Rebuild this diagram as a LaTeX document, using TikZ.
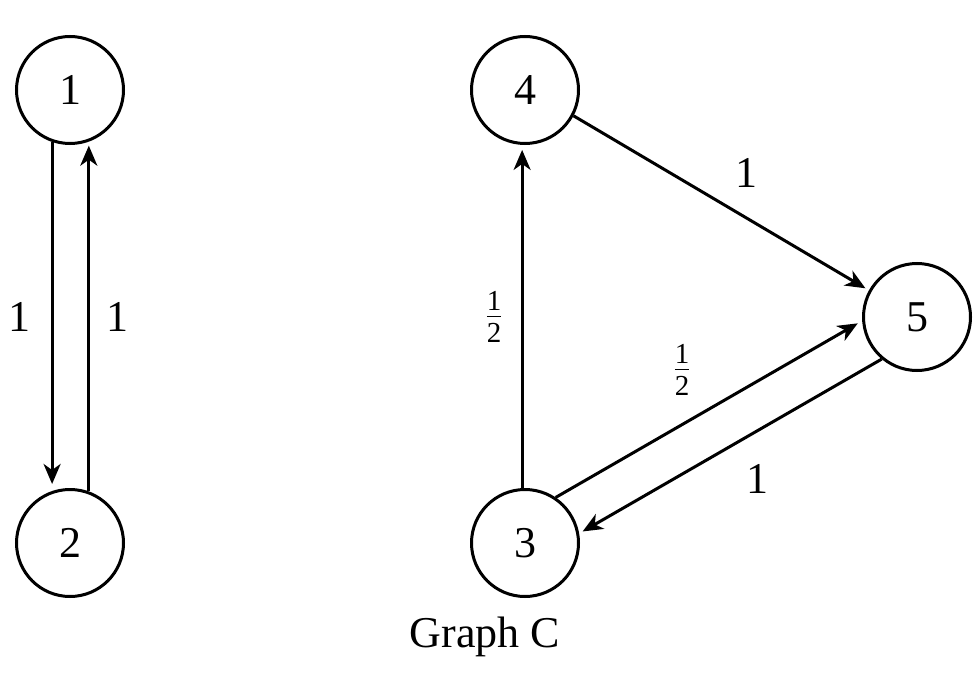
\RequirePackage{fix-cm}
\documentclass[tikz,border=0pt]{standalone}
\usepackage{amsmath}
\usepackage{fontspec}
\setmainfont{Liberation Serif}
\usetikzlibrary{arrows.meta}
\newcommand\myhalf{$\frac{\mbox{\fontsize{29}{30}\selectfont 1}}{\mbox{\fontsize{29}{30}\selectfont 2}}$}
\begin{document}
\begin{tikzpicture}[x=1pt,y=-1pt,
  vtx/.style={draw,circle,line width=3pt,minimum size=107pt,inner sep=0pt,font=\fontsize{44}{50}\selectfont},
  lbl/.style={font=\fontsize{44}{50}\selectfont,inner sep=0pt},
  edge/.style={line width=3pt,-{Stealth[length=20pt,width=17pt,inset=6pt]}}]
\useasboundingbox (0,0) rectangle (980,690);
\node[vtx] (n1) at (70,90) {1};
\node[vtx] (n2) at (70,543) {2};
\node[vtx] (n4) at (525,90) {4};
\node[vtx] (n3) at (525,543) {3};
\node[vtx] (n5) at (917,317) {5};
\draw[edge,shorten >=7pt] (n1.251) -- (n2.109);
\draw[edge,shorten >=4pt] (n2.70) -- (n1.290);
\draw[edge,shorten >=5pt] (n3.93) -- (n4.267);
\draw[edge,shorten >=4pt] (n4.-28) -- (n5.151);
\draw[edge,shorten >=5pt] (n3.56) -- (n5.184);
\draw[edge,shorten >=4pt] (n5.230) -- (n3.10);
\node[lbl] (l12) at (20,317) {1};
\node[lbl] (l21) at (117,317) {1};
\node[lbl] (l34) at (494,317) {\myhalf};
\node[lbl] (l45) at (746,173) {1};
\node[lbl] (l35) at (682,370) {\myhalf};
\node[lbl] (l53) at (757,479) {1};
\node[lbl] (title) at (485,637) {Graph C};
\end{tikzpicture}
\end{document}
